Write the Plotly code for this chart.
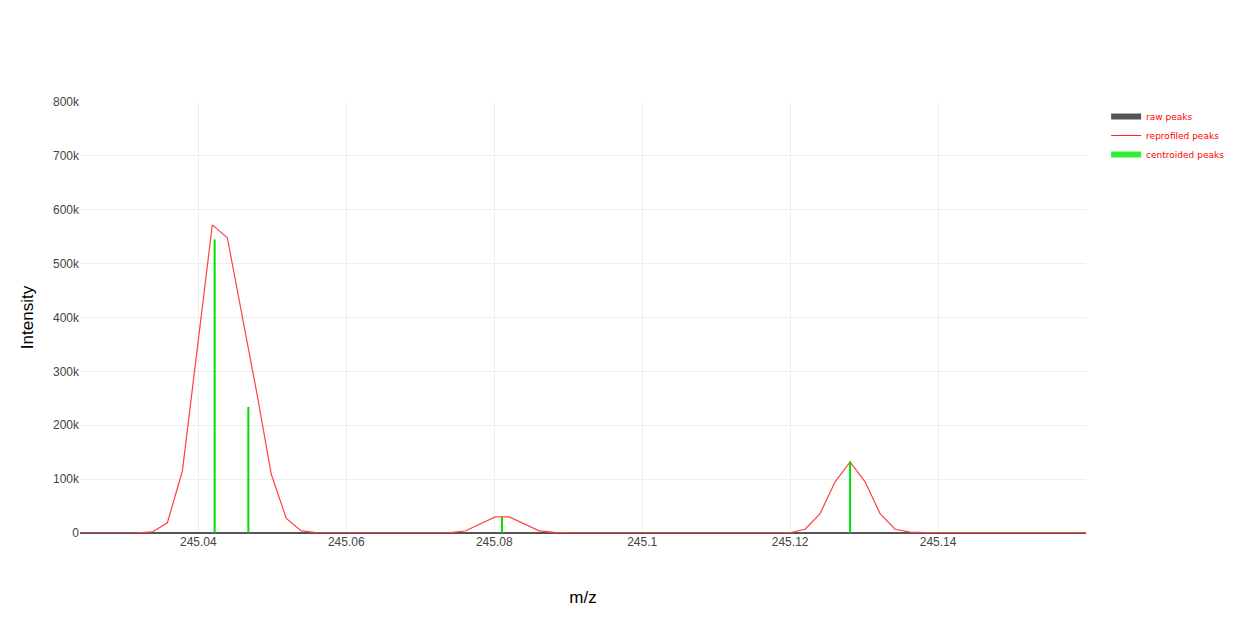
import plotly.graph_objects as go

# Reprofiled (profile) peaks
profile_mz = [245.0240, 245.0300, 245.03175, 245.03378, 245.03581, 245.03784, 245.03986,
              245.04189, 245.04392, 245.04595, 245.04797, 245.04986, 245.05189,
              245.05392, 245.05595, 245.0580, 245.0650, 245.0720, 245.0740,
              245.07608, 245.07811, 245.08014, 245.08203, 245.08405, 245.08608,
              245.08811, 245.0902, 245.1000, 245.1150, 245.1200, 245.12203,
              245.12405, 245.12608, 245.12811, 245.13014, 245.13216, 245.13419,
              245.13622, 245.1383, 245.1450, 245.1520, 245.1600]
profile_int = [0, 0, 300, 2000, 19000, 115000, 345000,
               572000, 548000, 400000, 255000, 109000, 27000,
               4000, 700, 300, 300, 400, 600,
               3700, 17000, 30000, 30000, 17000, 4000,
               1000, 500, 300, 300, 500, 7000,
               36000, 95000, 132000, 95000, 36000, 7000,
               1500, 700, 600, 700, 800]

# Centroided peaks
centroid_mz = [245.0422, 245.04676, 245.08104, 245.12811]
centroid_int = [545000, 234000, 30000, 133000]

# Axis ticks
x_ticks = [245.04, 245.06, 245.08, 245.10, 245.12, 245.14]
x_ticklabels = ["245.04", "245.06", "245.08", "245.1", "245.12", "245.14"]
y_ticks = [0, 100000, 200000, 300000, 400000, 500000, 600000, 700000, 800000]
y_ticklabels = ["0", "100k", "200k", "300k", "400k", "500k", "600k", "700k", "800k"]

fig = go.Figure()

# stick representation for centroids
stick_x, stick_y = [], []
for m, v in zip(centroid_mz, centroid_int):
    stick_x += [m, m, None]
    stick_y += [0, v, None]

# legend entries
fig.add_trace(go.Scatter(x=[None], y=[None], mode="lines", name="raw peaks",
                         line=dict(color="#555555", width=6)))
fig.add_trace(go.Scatter(x=[None], y=[None], mode="lines", name="reprofiled peaks",
                         line=dict(color="#ff2020", width=1)))
fig.add_trace(go.Scatter(x=[None], y=[None], mode="lines", name="centroided peaks",
                         line=dict(color="#33ee33", width=6)))

fig.add_trace(go.Scatter(x=profile_mz, y=profile_int, mode="lines", showlegend=False,
                         line=dict(color="#ff4040", width=1.2)))
fig.add_trace(go.Scatter(x=stick_x, y=stick_y, mode="lines", showlegend=False,
                         line=dict(color="#00dd00", width=2)))

fig.update_layout(
    width=1245, height=618,
    margin=dict(l=72, r=167, t=94, b=93),
    plot_bgcolor="white", paper_bgcolor="white",
    font=dict(family="Liberation Sans, Arial", color="#444444", size=12),
    legend=dict(x=1.02, y=1.0, xanchor="left", yanchor="top",
                font=dict(family="DejaVu Sans", size=9, color="#ff0000"),
                tracegroupgap=0, itemwidth=30, bgcolor="rgba(0,0,0,0)"),
)
fig.update_xaxes(range=[245.024, 245.16], tickvals=x_ticks, ticktext=x_ticklabels,
                 showgrid=True, gridcolor="#eeeeee", gridwidth=1, zeroline=False,
                 showline=False, ticks="",
                 title=dict(text="m/z", font=dict(size=17, color="#000000"), standoff=43))
fig.update_yaxes(range=[0, 800000], tickvals=y_ticks, ticktext=y_ticklabels,
                 showgrid=True, gridcolor="#eeeeee", gridwidth=1,
                 zeroline=True, zerolinecolor="#555555", zerolinewidth=1.5,
                 showline=False, ticks="",
                 title=dict(text="Intensity", font=dict(size=17, color="#000000"), standoff=15))

fig.write_html("out.html")
